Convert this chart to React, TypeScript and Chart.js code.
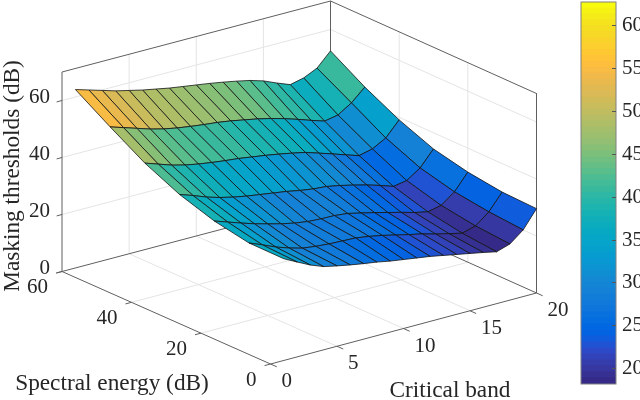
import React, { useEffect, useRef } from "react";
import { Chart, registerables } from "chart.js";

Chart.register(...registerables);

const bands = [1,2,3,4,5,6,7,8,9,10,11,12,13,14,15,16,17,18,19,20];
const energies = [60, 50, 40, 30, 20, 10, 0];
const z60 = [62.6,61.2,59.8,58.4,57.3,56.2,55.3,54.4,53.7,53,52.3,51.5,50.6,49.6,48.2,46.2,44.4,45.5,47.7,52.5];
const z50 = [54.9,53.4,51.9,50.4,49.2,48.3,47.6,47,46.5,45.8,44.9,44,42.9,41.6,40.1,38.5,37,37.9,40.9,45.2];
const z40 = [47.6,46,44.4,43.2,42.3,41.6,41,40.5,39.8,39.1,38.3,37.4,36.4,34.9,33.4,31.8,30.3,31.4,34,39.1];
const z30 = [42,40.4,38.6,37.2,36.1,35.2,34.5,33.8,33.1,32.2,31.5,31.1,30.2,29.1,27.9,26.5,24.9,25.7,28.9,34.3];
const z20 = [38.1,36.5,34.9,33.4,32.1,30.9,29.9,29.2,28.9,28.8,28.3,27.2,26.1,24.9,23.7,22.4,21.4,22.4,25.9,31.6];
const z10 = [35.8,33.9,31.9,30.3,29,28.4,28,27.8,27.6,26.9,26,24.9,23.8,22.8,21.5,20.4,19.3,20.6,24.3,30];
const z0 = [35.7,33.3,31,29.2,28.2,27.3,26.5,25.8,24.9,24.2,23.5,22.8,21.9,21,20.1,19.2,18.2,19.7,23.4,29.6];
const surface = [z60, z50, z40, z30, z20, z10, z0];

const bandTicks = [0, 5, 10, 15, 20];
const energyTicks = [0, 20, 40, 60];
const levelTicks = [0, 20, 40, 60];
const colorMin = 18.2;
const colorMax = 62.8;
const levelTop = 70;
const bandTop = 20;
const energyTop = 60;

const zTitle = "Masking thresholds (dB)";
const eTitle = "Spectral energy (dB)";
const bTitle = "Critical band";

const parula = [
[0.2081,0.1663,0.5292],[0.2116,0.1898,0.5777],[0.2123,0.2138,0.6270],[0.2081,0.2386,0.6771],
[0.1959,0.2645,0.7279],[0.1707,0.2919,0.7792],[0.1253,0.3242,0.8303],[0.0591,0.3598,0.8683],
[0.0117,0.3875,0.8820],[0.0060,0.4086,0.8828],[0.0165,0.4266,0.8786],[0.0329,0.4430,0.8720],
[0.0498,0.4586,0.8641],[0.0629,0.4737,0.8554],[0.0723,0.4887,0.8467],[0.0779,0.5040,0.8384],
[0.0793,0.5200,0.8312],[0.0749,0.5375,0.8263],[0.0641,0.5570,0.8240],[0.0488,0.5772,0.8228],
[0.0343,0.5966,0.8199],[0.0265,0.6137,0.8135],[0.0239,0.6287,0.8038],[0.0231,0.6418,0.7913],
[0.0228,0.6535,0.7768],[0.0267,0.6642,0.7607],[0.0384,0.6743,0.7436],[0.0590,0.6838,0.7254],
[0.0843,0.6928,0.7062],[0.1133,0.7015,0.6859],[0.1453,0.7098,0.6646],[0.1801,0.7177,0.6424],
[0.2178,0.7250,0.6193],[0.2586,0.7317,0.5954],[0.3022,0.7376,0.5712],[0.3482,0.7424,0.5473],
[0.3953,0.7459,0.5244],[0.4420,0.7481,0.5033],[0.4871,0.7491,0.4840],[0.5300,0.7491,0.4661],
[0.5709,0.7485,0.4494],[0.6099,0.7473,0.4337],[0.6473,0.7456,0.4188],[0.6834,0.7435,0.4044],
[0.7184,0.7411,0.3904],[0.7525,0.7384,0.3768],[0.7858,0.7356,0.3633],[0.8185,0.7327,0.3498],
[0.8507,0.7299,0.3360],[0.8824,0.7274,0.3217],[0.9139,0.7258,0.3063],[0.9450,0.7261,0.2886],
[0.9739,0.7314,0.2666],[0.9938,0.7455,0.2403],[0.9990,0.7653,0.2164],[0.9955,0.7861,0.1967],
[0.9880,0.8066,0.1794],[0.9789,0.8271,0.1633],[0.9697,0.8481,0.1475],[0.9626,0.8705,0.1309],
[0.9589,0.8949,0.1132],[0.9598,0.9218,0.0948],[0.9661,0.9514,0.0755],[0.9763,0.9831,0.0538],
];

const FONT = '"Liberation Serif", serif';
const INK = "#262626";
const BOX = "#5f5f5f";
const GRID = "#e4e4e4";

// Orthographic view of the box: floor corners on the plotting plane.
const cornerA = [62, 271.5];
const cornerB = [270.5, 364];
const cornerC = [536.5, 293];
const cornerD = [330.5, 200.5];
const levelScale = 199.5 / levelTop;

function project(b: number, e: number, z: number) {
  const u = b / bandTop;
  const v = e / energyTop;
  const w = (i: number) =>
    (1 - u) * (1 - v) * cornerB[i] + u * (1 - v) * cornerC[i] + (1 - u) * v * cornerA[i] + u * v * cornerD[i];
  return { x: w(0), y: w(1) - z * levelScale };
}

function colorOf(z: number) {
  const t = (z - colorMin) / (colorMax - colorMin);
  const i = Math.max(0, Math.min(parula.length - 1, Math.floor(t * parula.length)));
  return rgb(parula[i]);
}
function rgb(c: number[]) {
  return `rgb(${Math.round(c[0] * 255)},${Math.round(c[1] * 255)},${Math.round(c[2] * 255)})`;
}

function lineSet(points: { x: number; y: number }[], color: string, width: number) {
  return {
    data: points,
    borderColor: color,
    borderWidth: width,
    pointRadius: 0,
    tension: 0,
    fill: false,
  };
}

function buildFrame() {
  const grid: any[] = [];
  const box: any[] = [];
  const seg = (a: number[], c: number[]) => [project(a[0], a[1], a[2]), project(c[0], c[1], c[2])];
  for (const b of bandTicks.slice(1, -1)) {
    grid.push(lineSet(seg([b, 0, 0], [b, energyTop, 0]), GRID, 1));
    grid.push(lineSet(seg([b, energyTop, 0], [b, energyTop, levelTop]), GRID, 1));
  }
  for (const e of energyTicks.slice(1, -1)) {
    grid.push(lineSet(seg([0, e, 0], [bandTop, e, 0]), GRID, 1));
    grid.push(lineSet(seg([bandTop, e, 0], [bandTop, e, levelTop]), GRID, 1));
  }
  for (const z of levelTicks.slice(1)) {
    grid.push(lineSet(seg([0, energyTop, z], [bandTop, energyTop, z]), GRID, 1));
    grid.push(lineSet(seg([bandTop, energyTop, z], [bandTop, 0, z]), GRID, 1));
  }
  const edges = [
    [[0, energyTop, 0], [0, energyTop, levelTop]],
    [[0, energyTop, levelTop], [bandTop, energyTop, levelTop]],
    [[bandTop, energyTop, levelTop], [bandTop, 0, levelTop]],
    [[bandTop, 0, levelTop], [bandTop, 0, 0]],
    [[bandTop, energyTop, levelTop], [bandTop, energyTop, 0]],
    [[0, energyTop, 0], [bandTop, energyTop, 0]],
    [[bandTop, energyTop, 0], [bandTop, 0, 0]],
    [[0, energyTop, 0], [0, 0, 0]],
    [[0, 0, 0], [bandTop, 0, 0]],
  ];
  for (const ed of edges) box.push(lineSet(seg(ed[0], ed[1]), BOX, 1));
  for (const z of levelTicks) box.push(lineSet(seg([0, energyTop, z], [-0.4, energyTop, z]), BOX, 1));
  for (const e of energyTicks) box.push(lineSet(seg([0, e, 0], [-0.45, e, 0]), BOX, 1));
  for (const b of bandTicks) box.push(lineSet(seg([b, 0, 0], [b, -1.8, 0]), BOX, 1));
  return [...grid, ...box];
}

function buildSurface() {
  const cells: any[] = [];
  // back (high energy, high band) to front
  for (let j = 0; j < energies.length - 1; j++) {
    for (let i = bands.length - 2; i >= 0; i--) {
      const far = surface[j];
      const near = surface[j + 1];
      const pts = [
        project(bands[i], energies[j], far[i]),
        project(bands[i + 1], energies[j], far[i + 1]),
        project(bands[i + 1], energies[j + 1], near[i + 1]),
        project(bands[i], energies[j + 1], near[i]),
        project(bands[i], energies[j], far[i]),
      ];
      cells.push({
        data: pts,
        borderColor: "#141414",
        borderWidth: 0.8,
        backgroundColor: colorOf(near[i]),
        pointRadius: 0,
        tension: 0,
        fill: "shape",
      });
    }
  }
  return cells;
}

const labelPlugin = {
  id: "boxLabels",
  afterDraw(chart: any) {
    const ctx = chart.ctx;
    const sx = chart.scales.x;
    const sy = chart.scales.y;
    const at = (p: { x: number; y: number }) => [sx.getPixelForValue(p.x), sy.getPixelForValue(p.y)];
    ctx.save();
    ctx.fillStyle = INK;
    ctx.textBaseline = "middle";
    ctx.font = `21px ${FONT}`;
    ctx.textAlign = "right";
    for (const z of levelTicks) {
      const [x, y] = at(project(0, energyTop, z));
      ctx.fillText(String(z), x - 12, y - 3);
    }
    for (const e of energyTicks) {
      const [x, y] = at(project(0, e, 0));
      ctx.fillText(String(e), x - 14, y + 16);
    }
    ctx.textAlign = "left";
    for (const b of bandTicks) {
      const [x, y] = at(project(b, 0, 0));
      ctx.fillText(String(b), x + 11, y + 17.5);
    }
    ctx.font = `23.3px ${FONT}`;
    ctx.textAlign = "center";
    ctx.fillText(eTitle, 112, 384);
    ctx.fillText(bTitle, 450, 391);
    ctx.translate(13, 176);
    ctx.rotate(-Math.PI / 2);
    ctx.fillText(zTitle, 0, 0);
    ctx.restore();
  },
};

const outlinePlugin = {
  id: "barOutline",
  afterDatasetsDraw(chart: any) {
    const { ctx, chartArea: a } = chart;
    ctx.save();
    ctx.strokeStyle = "#808080";
    ctx.lineWidth = 1;
    ctx.strokeRect(a.left, a.top, a.right - a.left, a.bottom - a.top);
    ctx.restore();
  },
};

export default function App() {
  const surfaceRef = useRef<HTMLCanvasElement>(null);
  const barRef = useRef<HTMLCanvasElement>(null);

  useEffect(() => {
    document.body.style.margin = "0";
    const datasets = [...buildFrame(), ...buildSurface()].reverse();
    const plot = new Chart(surfaceRef.current!, {
      type: "line",
      data: { datasets },
      options: {
        animation: false,
        responsive: false,
        layout: { padding: 0 },
        plugins: { legend: { display: false }, tooltip: { enabled: false } },
        scales: {
          x: { type: "linear", display: false, min: 0, max: 640 },
          y: { type: "linear", display: false, min: 0, max: 400, reverse: true },
        },
      },
      plugins: [labelPlugin],
    } as any);

    const step = (colorMax - colorMin) / parula.length;
    const bar = new Chart(barRef.current!, {
      type: "bar",
      data: {
        labels: ["level"],
        datasets: parula.map((c, i) => ({
          data: [[colorMin + i * step, colorMin + (i + 1) * step + 0.05]],
          backgroundColor: rgb(c),
          borderWidth: 0,
          grouped: false,
          barPercentage: 1,
          categoryPercentage: 1,
        })),
      },
      options: {
        animation: false,
        responsive: false,
        layout: { autoPadding: false, padding: { left: 11, top: 2, bottom: 16, right: 0 } },
        plugins: { legend: { display: false }, tooltip: { enabled: false } },
        scales: {
          x: { display: false, offset: true },
          y: {
            position: "right",
            min: colorMin,
            max: colorMax,
            afterFit: (s: any) => {
              s.width = 24;
              s.paddingTop = 0;
              s.paddingBottom = 0;
            },
            border: { display: false },
            grid: { drawOnChartArea: false, tickLength: -4, color: "#555555", z: 1 },
            ticks: {
              stepSize: 5,
              includeBounds: false,
              padding: 10,
              color: INK,
              font: { family: "Liberation Serif", size: 21 },
            },
          },
        },
      },
      plugins: [outlinePlugin],
    } as any);

    return () => {
      plot.destroy();
      bar.destroy();
    };
  }, []);

  return (
    <div style={{ position: "relative", width: 640, height: 400, overflow: "hidden", background: "#fff" }}>
      <canvas ref={surfaceRef} width={640} height={400} style={{ position: "absolute", left: 0, top: 0 }} />
      <canvas ref={barRef} width={70} height={400} style={{ position: "absolute", left: 570, top: 0 }} />
    </div>
  );
}
